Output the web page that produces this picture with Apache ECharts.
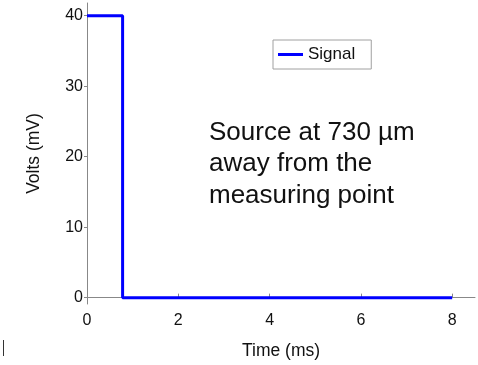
<!DOCTYPE html>
<html><head><meta charset="utf-8">
<script src="https://cdn.jsdelivr.net/npm/echarts@6/dist/echarts.min.js"></script>
<style>html,body{margin:0;padding:0;background:#fff}#c{width:478px;height:365px}</style>
</head><body><div id="c"></div>
<script>
var timeMs = [0, 0.78, 0.78, 8];
var voltsMv = [40, 40, 0, 0];
var xTicks = [0, 2, 4, 6, 8];
var yTicks = [0, 10, 20, 30, 40];
var seriesName = 'Signal';
var note = 'Source at 730 µm\naway from the\nmeasuring point';

var pts = timeMs.map(function(t, i){ return [t, voltsMv[i]]; });
var font = 'Liberation Sans, Arial, Helvetica, sans-serif';
var chart = echarts.init(document.getElementById('c'));
chart.setOption({
  animation: false,
  grid: {left: 87, right: 3, top: 3, bottom: 59},
  legend: {
    data: [seriesName], left: 273, top: 40,
    icon: 'rect',
    padding: [6, 16, 6, 5], itemWidth: 25, itemHeight: 3, itemGap: 4,
    borderColor: '#a0a0a0', borderWidth: 1, borderRadius: 0,
    textStyle: {fontFamily: font, fontSize: 17, color: '#111'}
  },
  xAxis: {
    type: 'value', min: 0, max: 8.5,
    name: 'Time (ms)', nameLocation: 'middle', nameGap: 38,
    nameTextStyle: {fontFamily: font, fontSize: 17.5, color: '#111'},
    axisLine: {show: true, lineStyle: {color: '#888', width: 1}},
    axisTick: {show: true, inside: true, length: 4, customValues: xTicks, lineStyle: {color: '#888'}},
    axisLabel: {customValues: xTicks, margin: 9, fontFamily: font, fontSize: 16, color: '#111'},
    splitLine: {show: false}
  },
  yAxis: {
    type: 'value', min: -0.9, max: 41.8,
    name: 'Volts (mV)', nameLocation: 'middle', nameGap: 44,
    nameTextStyle: {fontFamily: font, fontSize: 17.5, color: '#111'},
    axisLine: {show: true, lineStyle: {color: '#888', width: 1}},
    axisTick: {show: true, inside: false, length: 3, customValues: yTicks, lineStyle: {color: '#888'}},
    axisLabel: {customValues: yTicks, margin: 4, fontFamily: font, fontSize: 16, color: '#111'},
    splitLine: {show: false}
  },
  series: [{
    name: seriesName, type: 'line', data: pts, symbol: 'none', showSymbol: false,
    lineStyle: {color: '#0000ff', width: 3}, itemStyle: {color: '#0000ff'}
  }],
  graphic: [
    {type: 'text', left: 209, top: 117, style: {text: note, font: '26px ' + font, lineHeight: 31.5, fill: '#111'}},
    {type: 'line', shape: {x1: 3.5, y1: 340, x2: 3.5, y2: 356}, style: {stroke: '#333', lineWidth: 1}}
  ]
});
</script></body></html>
